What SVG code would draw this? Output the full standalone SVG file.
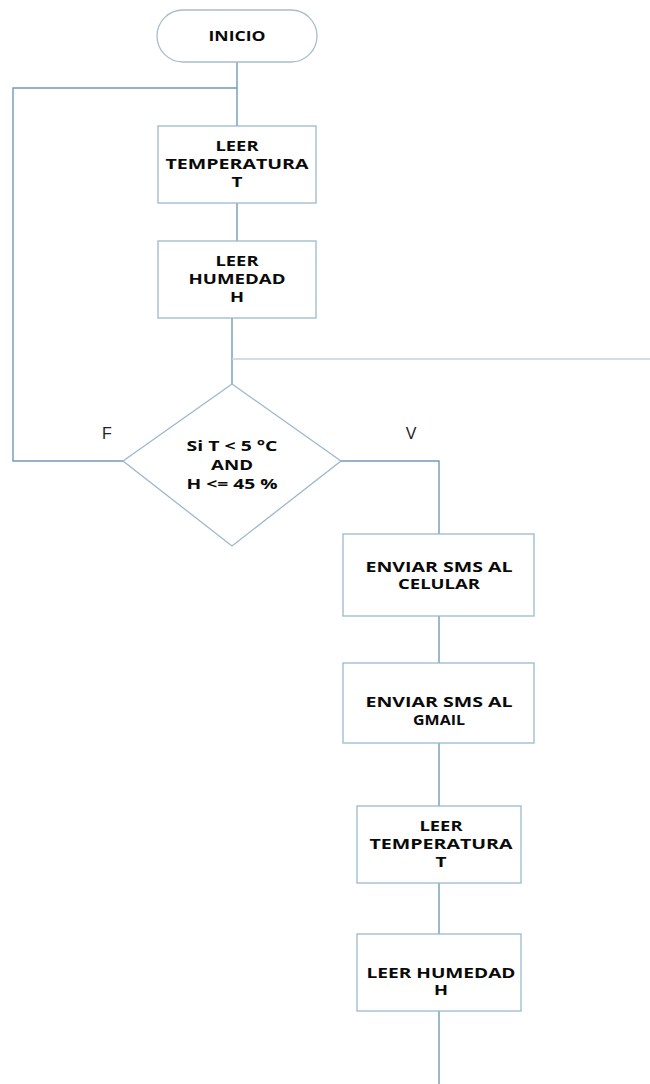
<svg xmlns="http://www.w3.org/2000/svg" width="650" height="1084" viewBox="0 0 650 1084">
<style>
.bg{fill:#ffffff}
.node{fill:#ffffff;stroke:#9cb8cc;stroke-width:1.3}
.term{fill:#ffffff;stroke:#a9bccb;stroke-width:1.3}
.c{fill:none;stroke:#6f9abb;stroke-width:1.4}
.cl{fill:none;stroke:#c3d3de;stroke-width:1.6}
.t{font-family:"Open Sans","Liberation Sans",sans-serif;font-weight:bold;font-size:13.5px;fill:#0a0a0a;text-anchor:middle}
.lbl{font-family:"Liberation Sans","Arial",sans-serif;font-size:16px;fill:#222;text-anchor:middle}
</style>
<rect class="bg" x="0" y="0" width="650" height="1084"/>
<g id="connectors">
<path class="c" d="M237 62 V126"/>
<path class="c" d="M237 88 H13 V461 H123"/>
<path class="c" d="M237 203 V241"/>
<path class="c" d="M232 318 V384"/>
<path class="cl" d="M232 359 H650"/>
<path class="c" d="M340 461 H439 V534"/>
<path class="c" d="M439 616 V663"/>
<path class="c" d="M439 743 V806"/>
<path class="c" d="M439 883 V934"/>
<path class="c" d="M439 1011 V1084"/>
</g>
<g id="inicio">
<rect class="term" x="157" y="10" width="160" height="52" rx="26" ry="26"/>
<text class="t" x="237" y="41" textLength="57" lengthAdjust="spacingAndGlyphs">INICIO</text>
</g>
<g id="leer-temp-1">
<rect class="node" x="158" y="126" width="158" height="77"/>
<text class="t" x="237" y="151" textLength="43" lengthAdjust="spacingAndGlyphs">LEER</text>
<text class="t" x="237" y="169" textLength="143" lengthAdjust="spacingAndGlyphs">TEMPERATURA</text>
<text class="t" x="237" y="187" textLength="11" lengthAdjust="spacingAndGlyphs">T</text>
</g>
<g id="leer-hum-1">
<rect class="node" x="158" y="241" width="158" height="77"/>
<text class="t" x="237" y="266" textLength="43" lengthAdjust="spacingAndGlyphs">LEER</text>
<text class="t" x="237" y="284" textLength="97" lengthAdjust="spacingAndGlyphs">HUMEDAD</text>
<text class="t" x="237" y="302" textLength="14" lengthAdjust="spacingAndGlyphs">H</text>
</g>
<g id="decision">
<polygon class="node" points="232,384 341,461 232,546 123,461"/>
<text class="t" x="232" y="451" textLength="91" lengthAdjust="spacingAndGlyphs">Si T &lt; 5 °C</text>
<text class="t" x="232" y="470" textLength="42" lengthAdjust="spacingAndGlyphs">AND</text>
<text class="t" x="232" y="489" textLength="91" lengthAdjust="spacingAndGlyphs">H &lt;= 45 %</text>
</g>
<g id="labels">
<text class="lbl" x="107" y="439">F</text>
<text class="lbl" x="411" y="439">V</text>
</g>
<g id="sms-celular">
<rect class="node" x="343" y="534" width="191" height="82"/>
<text class="t" x="439" y="572" textLength="147" lengthAdjust="spacingAndGlyphs">ENVIAR SMS AL</text>
<text class="t" x="439" y="589" textLength="82" lengthAdjust="spacingAndGlyphs">CELULAR</text>
</g>
<g id="sms-gmail">
<rect class="node" x="343" y="663" width="191" height="80"/>
<text class="t" x="439" y="707" textLength="147" lengthAdjust="spacingAndGlyphs">ENVIAR SMS AL</text>
<text class="t" x="439" y="725" textLength="52" lengthAdjust="spacingAndGlyphs">GMAIL</text>
</g>
<g id="leer-temp-2">
<rect class="node" x="357" y="806" width="164" height="77"/>
<text class="t" x="441" y="831" textLength="43" lengthAdjust="spacingAndGlyphs">LEER</text>
<text class="t" x="441" y="849" textLength="143" lengthAdjust="spacingAndGlyphs">TEMPERATURA</text>
<text class="t" x="441" y="867" textLength="11" lengthAdjust="spacingAndGlyphs">T</text>
</g>
<g id="leer-hum-2">
<rect class="node" x="357" y="934" width="164" height="77"/>
<text class="t" x="441" y="978" textLength="149" lengthAdjust="spacingAndGlyphs">LEER HUMEDAD</text>
<text class="t" x="441" y="995" textLength="14" lengthAdjust="spacingAndGlyphs">H</text>
</g>
</svg>
